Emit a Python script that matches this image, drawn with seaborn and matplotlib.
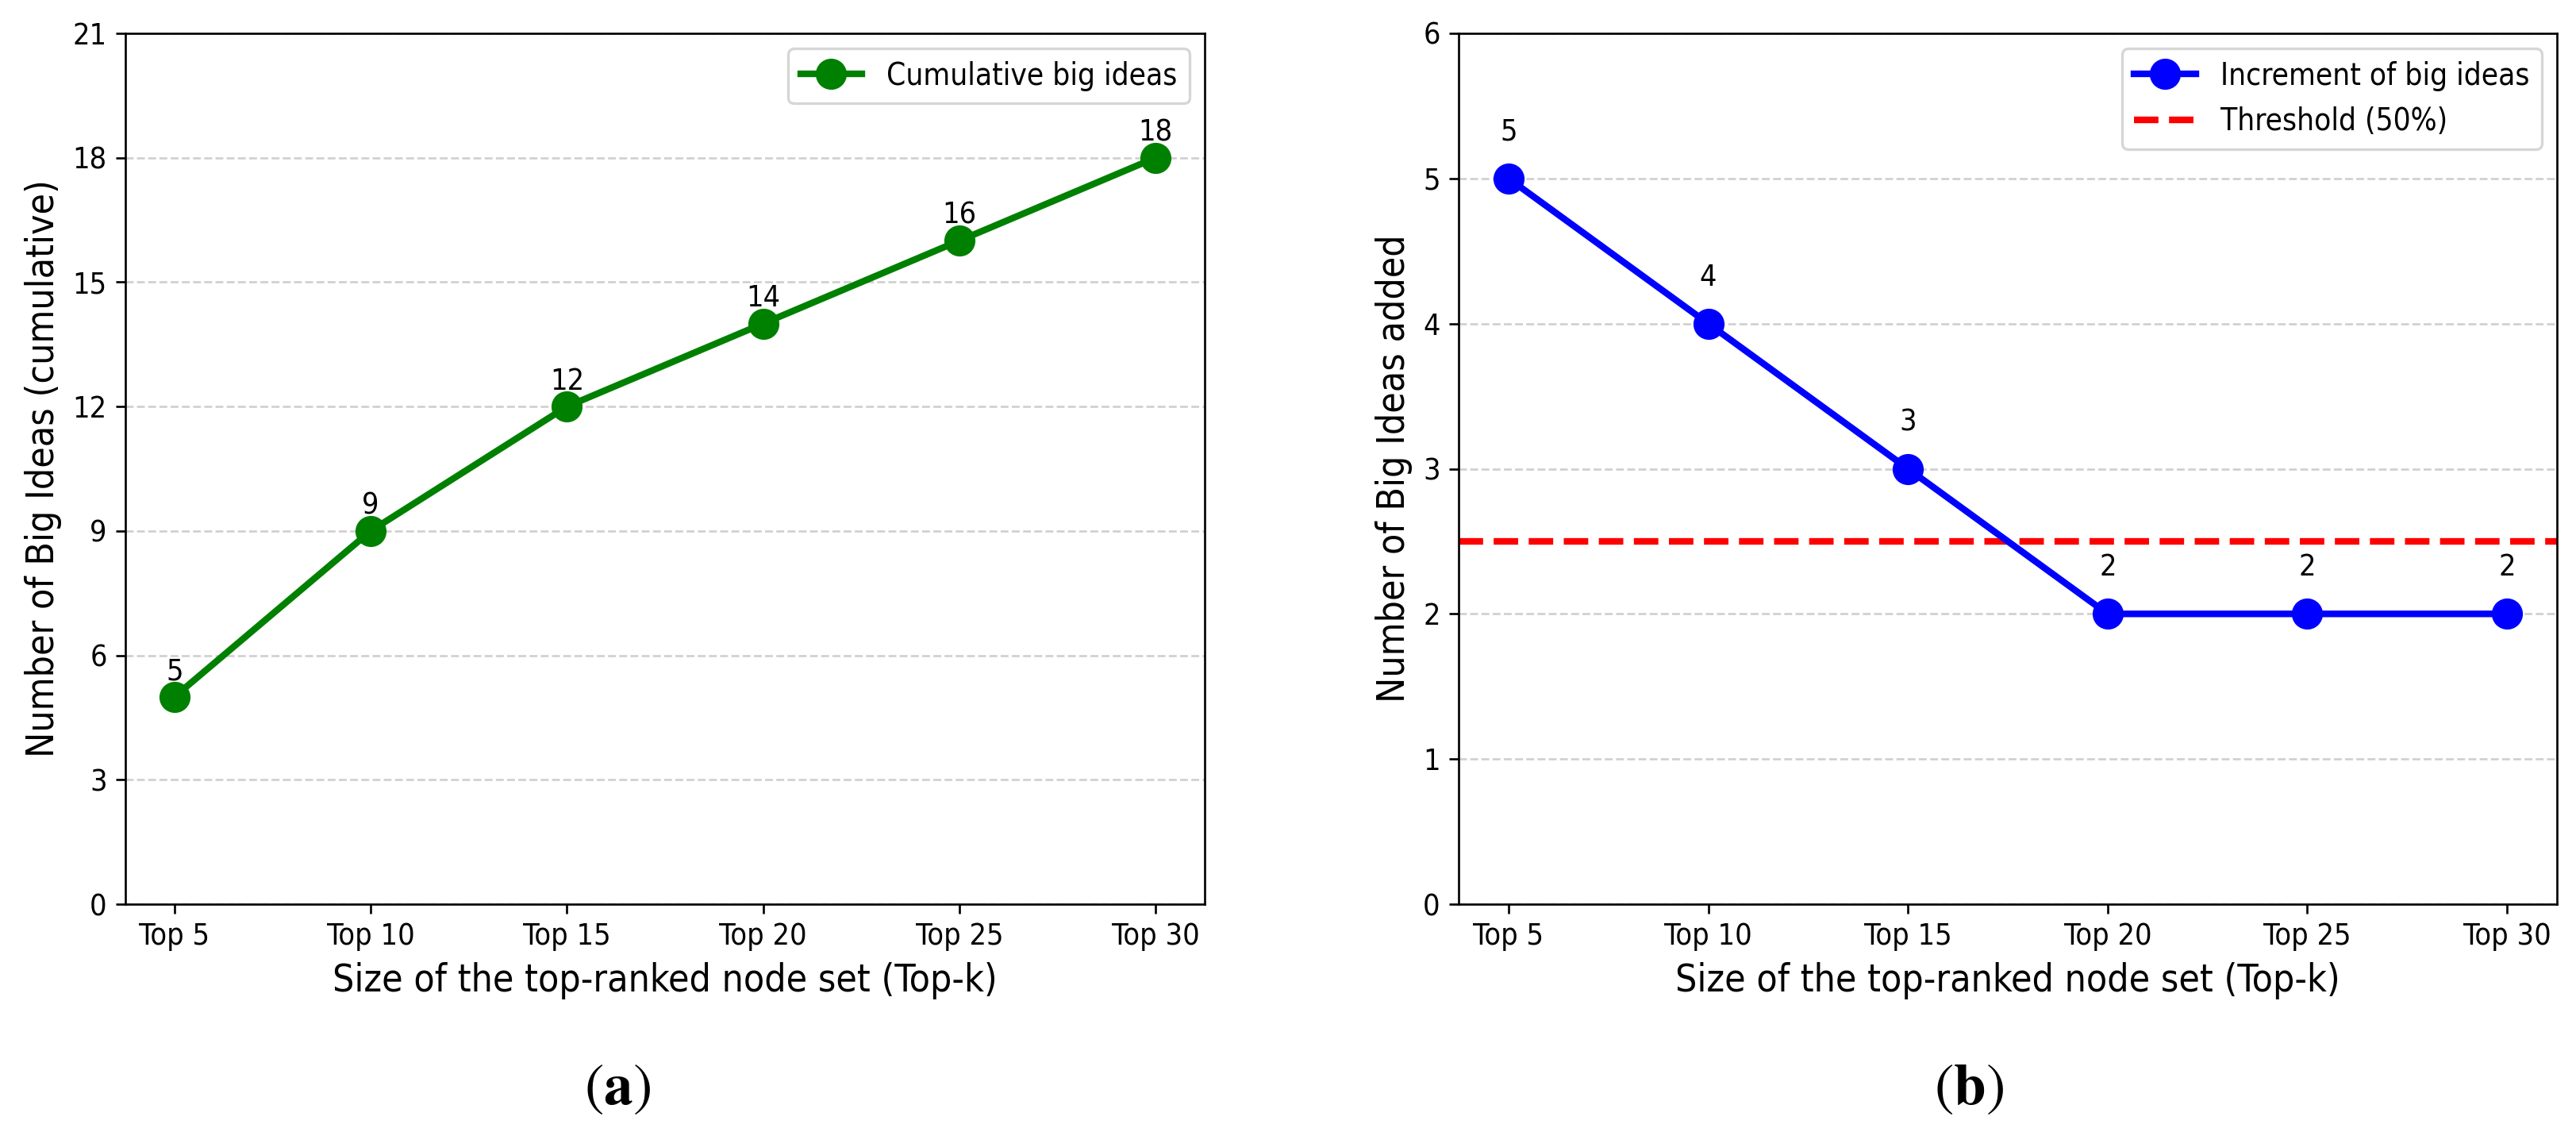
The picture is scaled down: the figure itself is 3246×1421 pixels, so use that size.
import matplotlib
matplotlib.use("Agg")
import matplotlib.pyplot as plt
import seaborn as sns
import pandas as pd

categories = ["Top 5", "Top 10", "Top 15", "Top 20", "Top 25", "Top 30"]
cumulative = [5, 9, 12, 14, 16, 18]
increment = [5, 4, 3, 2, 2, 2]
threshold = 2.5
left_yticks = [0, 3, 6, 9, 12, 15, 18, 21]
right_yticks = [0, 1, 2, 3, 4, 5, 6]

plt.rcParams["mathtext.fontset"] = "stix"
plt.rcParams["font.family"] = ["DejaVu Sans"]
plt.rcParams["font.stretch"] = "condensed"
TICK = 11.3
LABEL = 14.4
LEG = 11.6

DPI = 240
fig = plt.figure(figsize=(3246 / DPI, 1421 / DPI), dpi=DPI)
ax1 = fig.add_axes([158 / 3246, 1 - 1139 / 1421, (1518 - 158) / 3246, (1139 - 42) / 1421])
ax2 = fig.add_axes([1838 / 3246, 1 - 1139 / 1421, (3222 - 1838) / 3246, (1139 - 42) / 1421])

df1 = pd.DataFrame({"k": categories, "v": cumulative})
df2 = pd.DataFrame({"k": categories, "v": increment})

sns.lineplot(data=df1, x="k", y="v", ax=ax1, sort=False, color="green", marker="o",
             markersize=11, markeredgecolor="green", linewidth=2.5,
             label="Cumulative big ideas", zorder=3)
sns.lineplot(data=df2, x="k", y="v", ax=ax2, sort=False, color="blue", marker="o",
             markersize=11, markeredgecolor="blue", linewidth=2.5,
             label="Increment of big ideas", zorder=3)
ax2.axhline(threshold, color="red", linestyle="--", linewidth=2.5,
            label="Threshold (50%)", zorder=2)

for c, v in zip(categories, cumulative):
    ax1.annotate(str(v), (c, v), xytext=(0, 4), textcoords="offset points",
                 ha="center", va="bottom", fontsize=TICK)
for c, v in zip(categories, increment):
    ax2.annotate(str(v), (c, v), xytext=(0, 12), textcoords="offset points",
                 ha="center", va="bottom", fontsize=TICK)

ax1.set_ylim(0, 21)
ax1.set_yticks(left_yticks)
ax2.set_ylim(0, 6)
ax2.set_yticks(right_yticks)

for ax, yl in ((ax1, "Number of Big Ideas (cumulative)"), (ax2, "Number of Big Ideas added")):
    ax.grid(axis="y", linestyle="--", alpha=0.6, linewidth=0.8)
    ax.set_axisbelow(True)
    ax.set_xlabel("Size of the top-ranked node set (Top-k)", fontsize=LABEL)
    ax.set_ylabel(yl, fontsize=LABEL)
    ax.tick_params(labelsize=TICK)
    ax.legend(loc="upper right", fontsize=LEG)

fig.text(778 / 3246, 1 - 1370 / 1421, r"$(\mathbf{a})$", ha="center", va="center", fontsize=22)
fig.text(2481 / 3246, 1 - 1370 / 1421, r"$(\mathbf{b})$", ha="center", va="center", fontsize=22)

fig.savefig("out.png", dpi=DPI)
